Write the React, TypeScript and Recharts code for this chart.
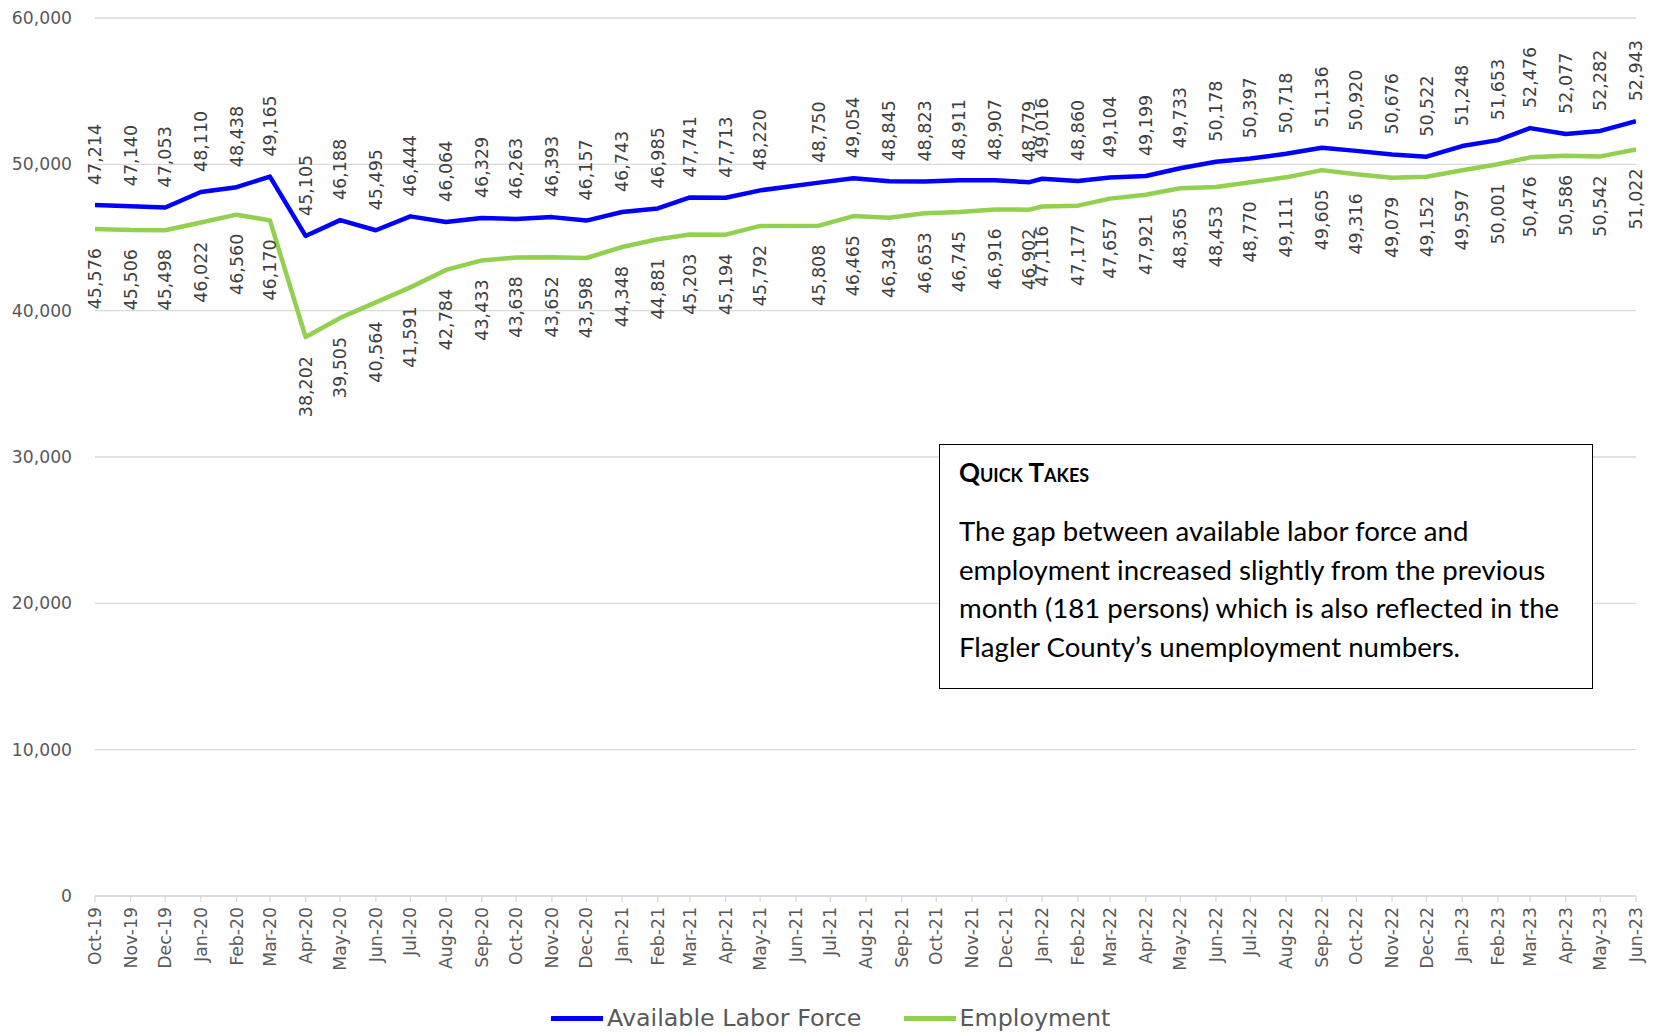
import React from 'react';
import { LineChart, Line, XAxis, YAxis, CartesianGrid } from 'recharts';

// x-axis tick labels (one per month, date axis)
const tickLabels = [
  'Oct-19', 'Nov-19', 'Dec-19', 'Jan-20', 'Feb-20', 'Mar-20', 'Apr-20', 'May-20', 'Jun-20', 'Jul-20',
  'Aug-20', 'Sep-20', 'Oct-20', 'Nov-20', 'Dec-20', 'Jan-21', 'Feb-21', 'Mar-21', 'Apr-21', 'May-21',
  'Jun-21', 'Jul-21', 'Aug-21', 'Sep-21', 'Oct-21', 'Nov-21', 'Dec-21', 'Jan-22', 'Feb-22', 'Mar-22',
  'Apr-22', 'May-22', 'Jun-22', 'Jul-22', 'Aug-22', 'Sep-22', 'Oct-22', 'Nov-22', 'Dec-22', 'Jan-23',
  'Feb-23', 'Mar-23', 'Apr-23', 'May-23', 'Jun-23',
];

// dates of the data points (some mid-2021 points sit on the 21st of the month)
const pointDates = [
  '2019-10-01', '2019-11-01', '2019-12-01', '2020-01-01', '2020-02-01', '2020-03-01', '2020-04-01',
  '2020-05-01', '2020-06-01', '2020-07-01', '2020-08-01', '2020-09-01', '2020-10-01', '2020-11-01',
  '2020-12-01', '2021-01-01', '2021-02-01', '2021-03-01', '2021-04-01', '2021-05-01',
  '2021-06-21', '2021-07-21', '2021-08-21', '2021-09-21', '2021-10-21', '2021-11-21', '2021-12-21',
  '2022-01-01', '2022-02-01', '2022-03-01', '2022-04-01', '2022-05-01', '2022-06-01', '2022-07-01',
  '2022-08-01', '2022-09-01', '2022-10-01', '2022-11-01', '2022-12-01', '2023-01-01', '2023-02-01',
  '2023-03-01', '2023-04-01', '2023-05-01', '2023-06-01',
];

const laborForce = [
  47214, 47140, 47053, 48110, 48438, 49165, 45105, 46188, 45495, 46444,
  46064, 46329, 46263, 46393, 46157, 46743, 46985, 47741, 47713, 48220,
  48750, 49054, 48845, 48823, 48911, 48907, 48779, 49016, 48860, 49104,
  49199, 49733, 50178, 50397, 50718, 51136, 50920, 50676, 50522, 51248,
  51653, 52476, 52077, 52282, 52943,
];

const employment = [
  45576, 45506, 45498, 46022, 46560, 46170, 38202, 39505, 40564, 41591,
  42784, 43433, 43638, 43652, 43598, 44348, 44881, 45203, 45194, 45792,
  45808, 46465, 46349, 46653, 46745, 46916, 46902, 47116, 47177, 47657,
  47921, 48365, 48453, 48770, 49111, 49605, 49316, 49079, 49152, 49597,
  50001, 50476, 50586, 50542, 51022,
];

const yTicks = [0, 10000, 20000, 30000, 40000, 50000, 60000];

const seriesNames = ['Available Labor Force', 'Employment'];
const seriesColors = ['#0000FF', '#92D050'];

const noteTitle = 'Quick Takes';
const noteLines = [
  'The gap between available labor force and',
  'employment increased slightly from the previous',
  'month (181 persons) which is also reflected in the',
  'Flagler County\u2019s unemployment numbers.',
];

const MONTHS = ['Jan', 'Feb', 'Mar', 'Apr', 'May', 'Jun', 'Jul', 'Aug', 'Sep', 'Oct', 'Nov', 'Dec'];
const DAY = 86400000;
const isoToDay = (s: string) => {
  const [y, m, d] = s.split('-').map(Number);
  return Date.UTC(y, m - 1, d) / DAY;
};
const labelToDay = (s: string) => {
  const [mon, yy] = s.split('-');
  return Date.UTC(2000 + Number(yy), MONTHS.indexOf(mon), 1) / DAY;
};

const tickDays = tickLabels.map(labelToDay);
const dayToLabel: Record<number, string> = {};
tickLabels.forEach((l, i) => { dayToLabel[tickDays[i]] = l; });

const rows = pointDates.map((d, i) => ({
  t: isoToDay(d),
  labor: laborForce[i],
  emp: employment[i],
}));

const FONT = '"DejaVu Sans", sans-serif';
const fmt = (v: number) => Number(v).toLocaleString('en-US');

const UpLabel = (p: any) => {
  const { x, y, value, index } = p;
  if (x == null || y == null) return null;
  const ty = y - 20;
  return (
    <text key={`u${index}`} x={x} y={ty} transform={`rotate(-90 ${x} ${ty})`} textAnchor="start"
      dominantBaseline="central" fontSize={17.5} fill="#404040" fontFamily={FONT}>
      {fmt(value)}
    </text>
  );
};

const DownLabel = (p: any) => {
  const { x, y, value, index } = p;
  if (x == null || y == null) return null;
  const ty = y + 19;
  return (
    <text key={`d${index}`} x={x} y={ty} transform={`rotate(-90 ${x} ${ty})`} textAnchor="end"
      dominantBaseline="central" fontSize={17.5} fill="#404040" fontFamily={FONT}>
      {fmt(value)}
    </text>
  );
};

const XTick = (p: any) => {
  const { x, y, payload } = p;
  return (
    <text x={x} y={y} transform={`rotate(-90 ${x} ${y})`} textAnchor="end" dominantBaseline="central"
      fontSize={17.3} fill="#595959" fontFamily={FONT}>
      {dayToLabel[payload.value]}
    </text>
  );
};

export default function App() {
  return (
    <div style={{ position: 'absolute', left: 0, top: 0, width: 1656, height: 1032, background: '#fff', overflow: 'hidden' }}>
      <LineChart width={1656} height={1032} data={rows} margin={{ top: 18, right: 20, left: 0, bottom: 0 }}>
        <CartesianGrid horizontal vertical={false} stroke="#d9d9d9" strokeWidth={1.3} />
        <XAxis
          dataKey="t"
          type="number"
          domain={[tickDays[0], tickDays[tickDays.length - 1]]}
          ticks={tickDays}
          interval={0}
          height={136}
          tickSize={6}
          tickMargin={5}
          stroke="#d9d9d9"
          axisLine={{ stroke: '#d9d9d9', strokeWidth: 1.3 }}
          tickLine={{ stroke: '#d9d9d9', strokeWidth: 1.3 }}
          tick={<XTick />}
          allowDataOverflow
        />
        <YAxis
          type="number"
          domain={[0, 60000]}
          ticks={yTicks}
          width={95}
          axisLine={false}
          tickLine={false}
          tickSize={0}
          tickMargin={23}
          tick={{ fontSize: 17.2, fill: '#595959', fontFamily: FONT }}
          tickFormatter={(v: number) => fmt(v)}
        />
        <Line dataKey="labor" name={seriesNames[0]} type="linear" stroke={seriesColors[0]} strokeWidth={4.5}
          dot={false} isAnimationActive={false} strokeLinejoin="round" label={UpLabel} />
        <Line dataKey="emp" name={seriesNames[1]} type="linear" stroke={seriesColors[1]} strokeWidth={4.5}
          dot={false} isAnimationActive={false} strokeLinejoin="round" label={DownLabel} />
      </LineChart>

      {/* legend */}
      <div style={{ position: 'absolute', top: 1004, left: 551, height: 28, display: 'flex', alignItems: 'center',
        fontFamily: FONT, fontSize: 23.8, color: '#595959', whiteSpace: 'nowrap' }}>
        {seriesNames.map((n, i) => (
          <div key={n} style={{ display: 'flex', alignItems: 'center', marginRight: i === 0 ? 42 : 0 }}>
            <div style={{ width: 52, height: 5, background: seriesColors[i], marginRight: 4 }} />
            <span>{n}</span>
          </div>
        ))}
      </div>

      {/* note box */}
      <div style={{ position: 'absolute', left: 939, top: 444, width: 654, height: 245, boxSizing: 'border-box',
        border: '1px solid #000', background: '#fff', fontFamily: 'Lato, "Open Sans", sans-serif', color: '#000' }}>
        <div style={{ position: 'absolute', left: 19, top: 12, fontWeight: 700, fontVariant: 'small-caps',
          fontSize: 26, lineHeight: '30px', whiteSpace: 'nowrap' }}>{noteTitle}</div>
        <div style={{ position: 'absolute', left: 19, top: 67, fontSize: 27.6, lineHeight: '38.5px', whiteSpace: 'nowrap' }}>
          {noteLines.map((l) => (<div key={l}>{l}</div>))}
        </div>
      </div>
    </div>
  );
}
